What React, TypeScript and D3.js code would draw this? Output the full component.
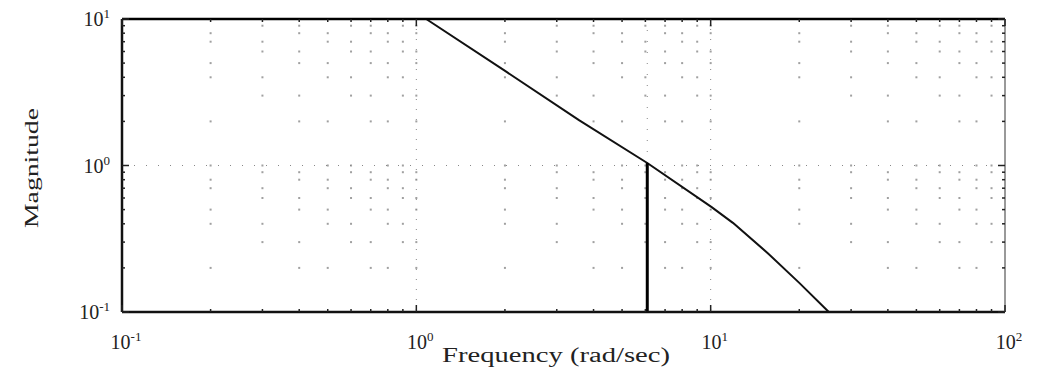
import React from "react";
import * as d3 from "d3";

// ---- data ----
const freq = [1.08, 2.02, 3.58, 6.09, 10.05, 11.9, 15.6, 20.0, 25.2];
const magnitude = [10, 4.37, 2.03, 1.04, 0.522, 0.406, 0.253, 0.158, 0.1];
const markerFreq = 6.09;
const markerTop = 1.04;
const markerBottom = 0.1;
const xTickValues = [0.1, 1, 10, 100];
const xTickExps = ["-1", "0", "1", "2"];
const yTickValues = [0.1, 1, 10];
const yTickExps = ["-1", "0", "1"];
const xTitle = "Frequency (rad/sec)";
const yTitle = "Magnitude";

const W = 1045;
const H = 384;
const L = 122, R = 1005, T = 19, B = 312;
const FONT = "'Liberation Serif', 'Times New Roman', Times, serif";

function minorValues(lo: number, hi: number): number[] {
  const out: number[] = [];
  for (let p = Math.round(Math.log10(lo)); p < Math.round(Math.log10(hi)); p++) {
    for (let k = 1; k <= 9; k++) out.push(k * Math.pow(10, p));
  }
  out.push(hi);
  return out;
}

export default function App() {
  const x = d3.scaleLog().domain([0.1, 100]).range([L, R]);
  const y = d3.scaleLog().domain([0.1, 10]).range([B, T]);
  const xMinor = minorValues(0.1, 100);
  const yMinor = minorValues(0.1, 10);

  const pts = freq.map((f, i) => [x(f), y(magnitude[i])] as [number, number]);
  const path = d3.line()(pts) || "";

  const dots: JSX.Element[] = [];
  xMinor.forEach((fx, i) => {
    if (fx <= 0.1 || fx >= 100) return;
    yMinor.forEach((my, j) => {
      if (my <= 0.1 || my >= 10) return;
      if ((i + j) % 3 === 0) return;
      dots.push(
        <rect key={`d${i}-${j}`} x={x(fx) - 1} y={y(my) - 1} width={2} height={2} fill="#a0a0a0" />
      );
    });
  });

  const textStyle = { fontFamily: FONT } as React.CSSProperties;

  return (
    <svg width={W} height={H} style={{ position: "absolute", left: 0, top: 0, background: "#fff" }}>
      <rect x={0} y={0} width={W} height={H} fill="#fff" />
      {/* sparse grid */}
      <g>{dots}</g>
      {[1, 10].map((v) => (
        <line key={`gx${v}`} x1={x(v)} x2={x(v)} y1={T} y2={B} stroke="#888" strokeWidth={1} strokeDasharray="1,9" />
      ))}
      <line x1={L} x2={R} y1={y(1)} y2={y(1)} stroke="#888" strokeWidth={1} strokeDasharray="1,11" />
      <line x1={x(markerFreq)} x2={x(markerFreq)} y1={T} y2={B} stroke="#888" strokeWidth={1} strokeDasharray="1,10" />

      {/* curve */}
      <path d={path} fill="none" stroke="#111" strokeWidth={2} strokeLinejoin="round" />
      {/* crossover marker */}
      <line x1={x(markerFreq)} x2={x(markerFreq)} y1={y(markerTop)} y2={y(markerBottom)} stroke="#000" strokeWidth={3} />

      {/* frame */}
      <line x1={L} x2={R} y1={T} y2={T} stroke="#000" strokeWidth={2.5} />
      <line x1={L} x2={R} y1={B} y2={B} stroke="#111" strokeWidth={2.5} />
      <line x1={L} x2={L} y1={T} y2={B} stroke="#111" strokeWidth={2.5} />
      <line x1={R} x2={R} y1={T} y2={B} stroke="#999" strokeWidth={2} />

      {/* minor ticks */}
      {xMinor.map((v, i) => (
        <g key={`xt${i}`}>
          <line x1={x(v)} x2={x(v)} y1={B} y2={B - (xTickValues.includes(v) ? 7 : 3)} stroke="#222" strokeWidth={1.5} />
          <line x1={x(v)} x2={x(v)} y1={T} y2={T + (xTickValues.includes(v) ? 7 : 3)} stroke="#222" strokeWidth={1.5} />
        </g>
      ))}
      {yMinor.map((v, i) => (
        <g key={`yt${i}`}>
          <line x1={L} x2={L + (yTickValues.includes(v) ? 7 : 3)} y1={y(v)} y2={y(v)} stroke="#222" strokeWidth={1.5} />
          <line x1={R} x2={R - (yTickValues.includes(v) ? 7 : 3)} y1={y(v)} y2={y(v)} stroke="#222" strokeWidth={1.5} />
        </g>
      ))}

      {/* tick labels */}
      {xTickValues.map((v, i) => (
        <text key={`xl${v}`} x={x(v) + 4} y={349} textAnchor="middle" style={textStyle} fontSize={20} fill="#222">
          10<tspan fontSize={13} dy={-8}>{xTickExps[i]}</tspan>
        </text>
      ))}
      {yTickValues.map((v, i) => (
        <text key={`yl${v}`} x={110} y={y(v) + 7} textAnchor="end" style={textStyle} fontSize={20} fill="#222">
          10<tspan fontSize={13} dy={-8}>{yTickExps[i]}</tspan>
        </text>
      ))}

      {/* titles */}
      <text x={556} y={362} textAnchor="middle" style={textStyle} fontSize={20} fill="#222"
        textLength={228} lengthAdjust="spacingAndGlyphs">{xTitle}</text>
      <text transform={`translate(38,168) rotate(-90)`} textAnchor="middle" style={textStyle} fontSize={19} fill="#222"
        textLength={120} lengthAdjust="spacingAndGlyphs">{yTitle}</text>
    </svg>
  );
}
